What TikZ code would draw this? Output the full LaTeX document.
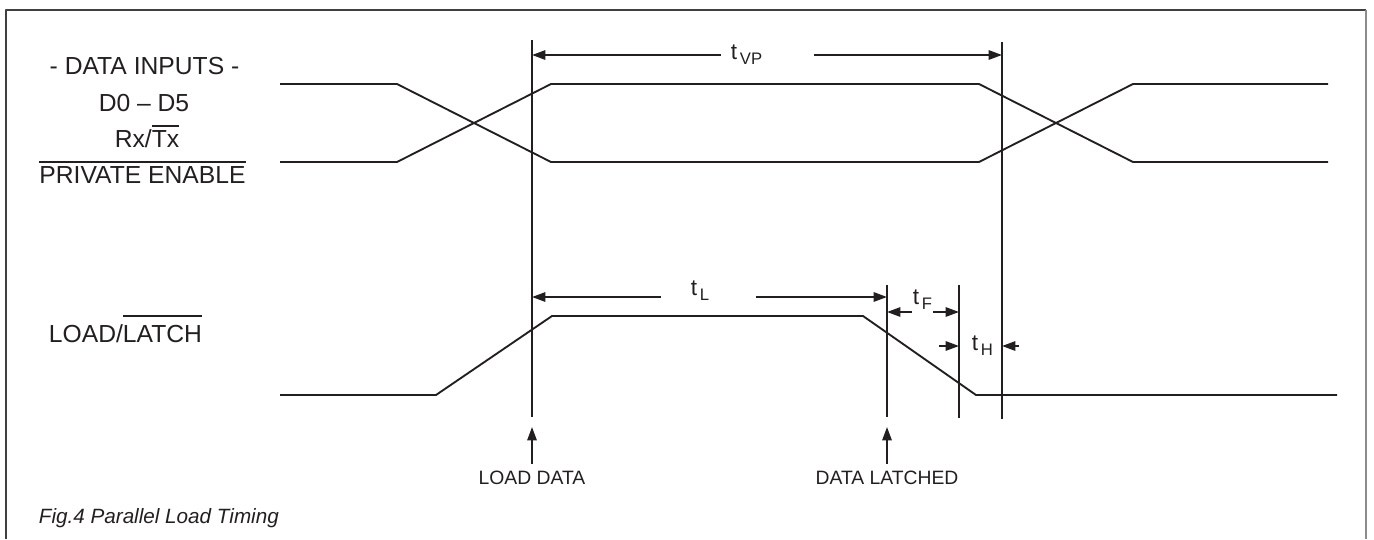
\documentclass[tikz,border=0pt]{standalone}
\usepackage{fontspec}
\setmainfont{Liberation Sans}
\usetikzlibrary{arrows.meta}
\definecolor{ink}{RGB}{35,31,32}
\newcommand\ovl[2][2.5pt]{\leavevmode\vbox{\hrule height 1.3pt\kern #1\hbox{#2}}}
\newcommand\tsub[1]{t\kern2pt\raisebox{-4pt}{\fontsize{12.5}{14}\selectfont #1}}
\begin{document}
\begin{tikzpicture}[x=0.75pt, y=-0.75pt, line join=round, color=ink, line width=1.4pt,
		dim/.style={-{Triangle[length=10pt,width=7pt]}},
		biglbl/.style={font=\fontsize{18.5}{21}\selectfont, inner sep=0pt, anchor=base},
		tlbl/.style={font=\fontsize{17}{19}\selectfont, inner sep=0pt, anchor=base west},
		marklbl/.style={font=\fontsize{14.5}{16}\selectfont, inner sep=0pt, anchor=base}]
	\useasboundingbox (0,0) rectangle (1374,539);
	\draw[black!75, line width=1.5pt] (6,539) -- (6,10) -- (1366,10);
	\draw[black!45, line width=1.5pt] (1366,10) -- (1366,539);
	% data inputs
	\draw (280,84) -- (397,84) -- (551,162) -- (979,162) -- (1133,84) -- (1328,84);
	\draw (280,162) -- (397,162) -- (551,84) -- (979,84) -- (1133,162) -- (1328,162);
	% load/latch
	\draw (280,395) -- (436,395) -- (552,316) -- (863,316) -- (976,395) -- (1337,395);
	% markers
	\coordinate (vA) at (532,40);  \draw (vA) -- (532,417);
	\coordinate (vB) at (887,285); \draw (vB) -- (887,417);
	\coordinate (vC) at (959,285); \draw (vC) -- (959,418);
	\coordinate (vD) at (1002,42); \draw (vD) -- (1002,419);
	% timing labels
	\node[tlbl] (tvp) at (730,59) {\tsub{VP}};
	\draw[dim] (721,55) -- (vA |- 0,55);
	\draw[dim] (814,55) -- (vD |- 0,55);
	\node[tlbl] (tl) at (690,295) {\tsub{L}};
	\draw[dim] (661,297) -- (vA |- 0,297);
	\draw[dim] (756,297) -- (vB |- 0,297);
	\node[tlbl] (tf) at (912,304) {\tsub{F}};
	\draw[dim] (tf.west |- 0,312) -- (vB |- 0,312);
	\draw[dim] (933,312) -- (vC |- 0,312);
	\node[tlbl] (th) at (971,350) {\tsub{H}};
	\draw[dim] (939,346) -- (vC |- 0,346);
	\draw[dim] (1019,346) -- (vD |- 0,346);
	% signal names
	\node[biglbl] (din) at (144.5,74) {- DATA INPUTS -};
	\node[biglbl] (dbits) at (144,111) {D0 -- D5};
	\node[biglbl] (rxtx) at (147,147) {Rx/\ovl{Tx}};
	\node[biglbl] (pen) at (142.5,183) {\ovl{PRIVATE ENABLE}};
	\node[biglbl, anchor=base west] (ldl) at (48,342) {LOAD/\ovl[6pt]{LATCH}};
	% events
	\node[marklbl] (ldata) at (532,484) {LOAD DATA};
	\node[marklbl] (dlat) at (887,484) {DATA LATCHED};
	\draw[dim] (ldata.north |- 0,464) -- (vA |- 0,427);
	\draw[dim] (dlat.north |- 0,464) -- (vB |- 0,427);
	\node[font=\fontsize{15.5}{18}\selectfont\itshape, inner sep=0pt, anchor=base west] (cap) at (38,523) {Fig.4 Parallel Load Timing};
\end{tikzpicture}
\end{document}
